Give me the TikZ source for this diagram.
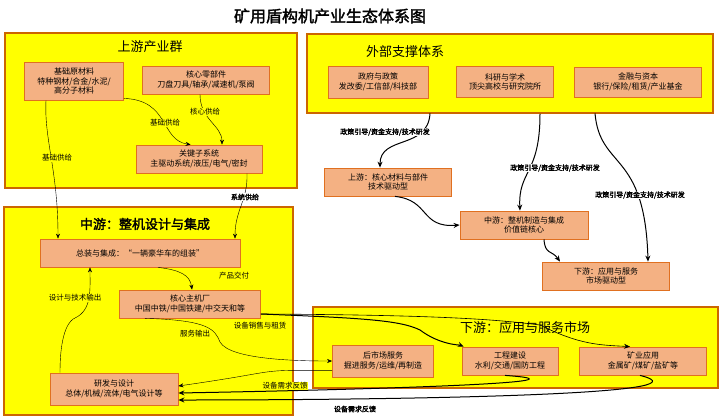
\documentclass[tikz,border=0pt]{standalone}
\usepackage{fontspec}
\setmainfont{Noto Sans CJK SC}[AutoFakeBold=2]
\usetikzlibrary{arrows.meta}
\definecolor{zone}{HTML}{FFFF00}
\definecolor{zoneline}{HTML}{CC6600}
\definecolor{cell}{HTML}{F4B183}
\definecolor{cellline}{HTML}{E07020}
\tikzset{
  zonebox/.style={draw=zoneline, fill=zone, line width=1.2pt},
  cellbox/.style={draw=cellline, fill=cell, line width=0.8pt, minimum height=28pt, align=center, font=\fontsize{8}{9.5}\selectfont, inner sep=2pt},
  zonetitle/.style={font=\fontsize{13}{15}\selectfont},
  flow/.style={-{Stealth[length=5pt, width=4pt]}, thin},
  heavy/.style={-{Stealth[length=6pt, width=5pt]}, line width=1pt},
  lbl/.style={font=\fontsize{7.5}{8}\selectfont, fill=zone, inner sep=0.5pt},
  boldlbl/.style={font=\fontsize{7}{8}\selectfont\bfseries, fill=white, inner sep=0.5pt}
}
\begin{document}
\begin{tikzpicture}[x=1pt, y=-1pt]
\useasboundingbox (0,0) rectangle (720,418);

\node[font=\fontsize{16}{18}\selectfont\bfseries] (title) at (330,16) {矿用盾构机产业生态体系图};

% zones
\draw[zonebox] (5,33) rectangle (297,188);
\draw[zonebox] (307,34) rectangle (713,113);
\draw[zonebox] (4,207) rectangle (293,415);
\draw[zonebox] (313,307) rectangle (718,388);

\node[zonetitle] (upT) at (150,47) {上游产业群};
\node[zonetitle] (extT) at (405,52) {外部支撑体系};
\node[zonetitle, font=\fontsize{13}{15}\selectfont\bfseries] (midT) at (145,224) {中游：整机设计与集成};
\node[zonetitle] (downT) at (525,328) {下游：应用与服务市场};

% upstream
\node[cellbox, minimum width=99pt, minimum height=38pt] (raw) at (74,81) {基础原材料\\特种钢材/合金/水泥/\\高分子材料};
\node[cellbox, minimum width=127pt] (core) at (206,80) {核心零部件\\刀盘刀具/轴承/减速机/泵阀};
\node[cellbox, minimum width=126pt] (key) at (199,159) {关键子系统\\主驱动系统/液压/电气/密封};

% external
\node[cellbox, minimum width=100pt, minimum height=32pt] (gov) at (378,82) {政府与政策\\发改委/工信部/科技部};
\node[cellbox, minimum width=97pt, minimum height=31pt] (sci) at (505,82) {科研与学术\\顶尖高校与研究院所};
\node[cellbox, minimum width=127pt, minimum height=30pt] (fin) at (638,82) {金融与资本\\银行/保险/租赁/产业基金};

\node[cellbox, minimum width=127pt] (chainUp) at (388,182) {上游：核心材料与部件\\技术驱动型};
\node[cellbox, minimum width=128pt] (chainMid) at (524,225) {中游：整机制造与集成\\价值链核心};
\node[cellbox, minimum width=127pt] (chainDown) at (606,276) {下游：应用与服务\\市场驱动型};

% midstream
\node[cellbox, minimum width=200pt] (asm) at (140,253) {总装与集成：“一辆豪华车的组装”};
\node[cellbox, minimum width=141pt] (oem) at (190,304) {核心主机厂\\中国中铁/中国铁建/中交天和等};
\node[cellbox, minimum width=128pt, minimum height=32pt] (rnd) at (114,389) {研发与设计\\总体/机械/流体/电气设计等};

% downstream
\node[cellbox, minimum width=101pt, minimum height=32pt] (after) at (383,361) {后市场服务\\掘进服务/运维/再制造};
\node[cellbox, minimum width=96pt] (eng) at (510,361) {工程建设\\水利/交通/国防工程};
\node[cellbox, minimum width=127pt] (mine) at (643,361) {矿业应用\\金属矿/煤矿/盐矿等};

% upstream flows
\draw[flow] ([yshift=2pt]raw.south east) .. controls (170,100) and (160,140) .. ([xshift=55pt]key.north west);
\draw[flow] ([xshift=-6pt]core.south) .. controls (200,120) and (222,125) .. ([xshift=23pt]key.north);
\node[lbl] (l1) at (165,123) {基础供给};
\node[lbl] (l2) at (205,112) {核心供给};
\draw[flow] ([xshift=-28pt]raw.south) .. controls (44,140) and (58,170) .. ([xshift=-82pt]asm.north);
\draw[flow] ([xshift=48pt]key.south) .. controls (248,200) and (235,210) .. ([xshift=95pt]asm.north);
\node[boldlbl] (l4) at (245,197) {系统供给};
\node[lbl] (l3) at (57,158) {基础供给};

% external flows
\draw[heavy] ([xshift=52pt,yshift=-15pt]gov.south) .. controls (428,150) and (380,135) .. ([xshift=-8pt]chainUp.north);
\node[boldlbl] (l5) at (385,132) {政策引导/资金支持/技术研发};
\draw[heavy] ([xshift=35pt,yshift=-16pt]sci.south) .. controls (540,175) and (518,170) .. ([xshift=-4pt]chainMid.north);
\node[boldlbl] (l6) at (555,168) {政策引导/资金支持/技术研发};
\draw[heavy] ([xshift=-43pt,yshift=-16pt]fin.south) .. controls (600,170) and (645,150) .. ([xshift=42pt]chainDown.north);
\node[boldlbl] (l7) at (640,195) {政策引导/资金支持/技术研发};
\draw[heavy] ([xshift=7pt]chainUp.south) .. controls (430,200) and (420,228) .. (chainMid.west);
\draw[heavy] ([xshift=20pt]chainMid.south) .. controls (545,255) and (552,250) .. ([xshift=-46pt]chainDown.north);

% midstream flows
\draw[flow] ([xshift=18pt]asm.south) .. controls (180,270) and (190,275) .. ([xshift=2pt]oem.north);
\node[lbl] (l8) at (234,276) {产品交付};
\draw[flow] ([xshift=-54pt]rnd.north) .. controls (60,330) and (70,320) .. (75,318) .. controls (92,310) and (90,290) .. ([xshift=-50pt]asm.south);
\node[lbl] (l9) at (75,298) {设计与技术输出};
\draw[flow] ([xshift=-45pt]oem.south) .. controls (210,320) and (215,330) .. (220,342) .. controls (230,360) and (300,361) .. (after.west);
\node[lbl] (l10) at (195,334) {服务输出};
\draw[heavy] ([yshift=-10pt]oem.east) .. controls (360,318) and (400,320) .. (420,330) .. controls (440,345) and (460,345) .. ([xshift=2pt]eng.north west);
\draw[heavy, line width=0.6pt] ([yshift=-10pt]oem.east) .. controls (450,315) and (500,320) .. (540,325) .. controls (580,345) and (600,345) .. ([xshift=-13pt]mine.north);
\node[lbl] (l11) at (260,326) {设备销售与租赁};

% feedback
\draw[flow] ([yshift=7pt]after.south west) .. controls (250,370) and (290,370) .. ([yshift=3pt]rnd.east);
\draw[heavy] ([xshift=-5pt]eng.south) .. controls (600,382) and (400,389) .. ([yshift=-4pt]rnd.east);
\draw[heavy] ([xshift=-3pt]mine.south) .. controls (720,395) and (400,400) .. ([yshift=-11pt]rnd.east);
\node[lbl] (l12) at (285,386) {设备需求反馈};
\node[boldlbl] (l13) at (355,409) {设备需求反馈};
\end{tikzpicture}
\end{document}
